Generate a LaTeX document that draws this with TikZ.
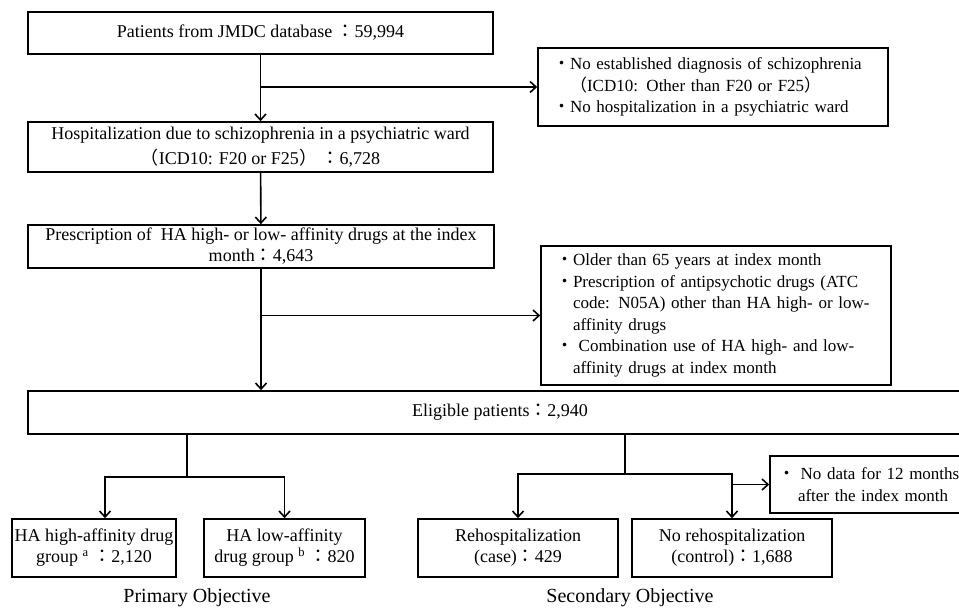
\documentclass[tikz,border=0pt]{standalone}
\usepackage{fontspec}
\setmainfont{Liberation Serif}
\newfontfamily\cjk{Noto Sans CJK JP}
\usetikzlibrary{arrows.meta}
\newcommand\fcolon{{\cjk ：}}
\newcommand\bul{{\cjk ・}}
\newcommand\lpar{{\cjk （}}
\newcommand\rpar{{\cjk ）}}
\newcommand\ind{\hspace*{17pt}}
\tikzstyle{box}=[draw,line width=1.6pt,inner sep=0pt,align=center,font=\fontsize{18}{21}\selectfont]
\tikzstyle{lbox}=[box,align=left,inner xsep=15pt,font=\fontsize{17}{21.5}\selectfont]
\tikzstyle{arr}=[line width=1.6pt,-{Straight Barb[length=6pt,width=11pt]}]
\tikzstyle{ln}=[line width=1.6pt]
\tikzstyle{objlabel}=[font=\fontsize{20}{22}\selectfont]

\begin{document}
\begin{tikzpicture}[x=1pt,y=-1pt]
	\useasboundingbox (0,0) rectangle (959,610);
	% main column
	\node[box,minimum width=465pt,minimum height=42pt] (pat) at (260.5,33) {Patients from JMDC database \fcolon59,994};
	\node[box,minimum width=465pt,minimum height=50pt] (hosp) at (260.5,147) {Hospitalization due to schizophrenia in a psychiatric ward\\[4pt]\lpar ICD10: F20 or F25\rpar\ \fcolon6,728};
	\node[box,minimum width=466pt,minimum height=43pt] (presc) at (261,246.5) {Prescription of \ HA high- or low- affinity drugs at the index\\month\fcolon4,643};
	\node[box,minimum width=944pt,minimum height=43pt] (elig) at (500,412.5) {Eligible patients\fcolon2,940};
	% exclusions
	\node[lbox,text width=320pt,minimum height=78pt] (ex1) at (713,87) {\bul No established diagnosis of schizophrenia\\\ind\lpar ICD10: Other than F20 or F25\rpar\\\bul No hospitalization in a psychiatric ward};
	\node[lbox,text width=320pt,minimum height=139pt] (ex2) at (716,315.5) {\bul Older than 65 years at index month\\\bul Prescription of antipsychotic drugs (ATC\\\ind code: N05A) other than HA high- or low-\\\ind affinity drugs\\\bul\ Combination use of HA high- and low-\\\ind affinity drugs at index month};
	\node[lbox,inner xsep=8pt,text width=210pt,minimum height=57pt] (nodata) at (883,484.5) {\bul\ No data for 12 months\\\hspace*{20pt}after the index month};
	% groups
	\node[box,minimum width=164pt,minimum height=58pt] (high) at (94,548) {HA high-affinity drug\\group \textsuperscript{a} \fcolon2,120};
	\node[box,minimum width=161pt,minimum height=58pt] (low) at (284.5,548) {HA low-affinity\\drug group \textsuperscript{b} \fcolon820};
	\node[box,minimum width=200pt,minimum height=58pt] (case) at (518,548) {Rehospitalization\\(case)\fcolon429};
	\node[box,minimum width=200pt,minimum height=58pt] (ctrl) at (732,548) {No rehospitalization\\(control)\fcolon1,688};
	\node[objlabel] (prim) at (197,598) {Primary Objective};
	\node[objlabel] (sec) at (630,598) {Secondary Objective};
	% connectors
	\coordinate (lsplit) at (187,477);
	\coordinate (rsplit) at (625,474);
	\draw[arr] (pat) -- (hosp);
	\draw[arr] (pat.south |- ex1.west) -- (ex1.west);
	\draw[arr] (hosp) -- (presc);
	\draw[arr] (presc.south) -- (presc.south |- elig.north);
	\draw[arr] (presc.south |- ex2.west) -- (ex2.west);
	\draw[ln] (elig.south -| lsplit) -- (lsplit);
	\draw[arr] (lsplit) -| ([xshift=11pt]high.north);
	\draw[arr] (lsplit) -| (low.north);
	\draw[ln] (elig.south -| rsplit) -- (rsplit);
	\draw[arr] (rsplit) -| (case.north);
	\draw[arr] (rsplit) -| (ctrl.north);
	\draw[arr] (ctrl.north |- nodata.west) -- (nodata.west);
\end{tikzpicture}
\end{document}
